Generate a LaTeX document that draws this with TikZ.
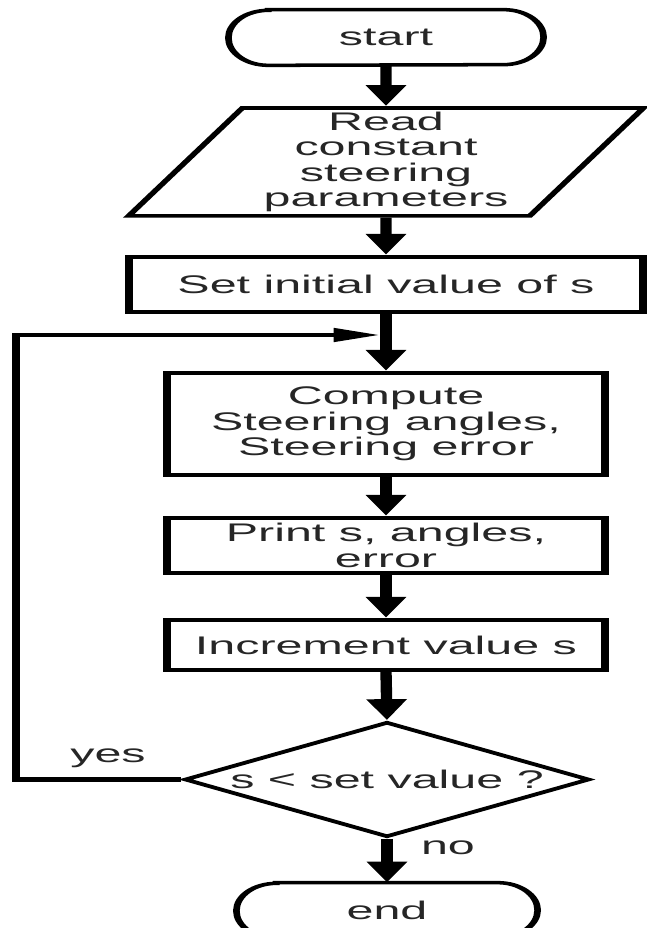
\documentclass[tikz,border=0pt]{standalone}
\usepackage{fontspec}
\setmainfont{Liberation Sans}
\usetikzlibrary{shapes.geometric,arrows.meta}

% capsule outline round a terminal node
\newcommand{\capsule}[1]{%
  \draw[line width=2pt] ([xshift=0.42cm]#1.north west) -- ([xshift=-0.42cm]#1.north east)
    arc[start angle=90, end angle=-90, x radius=0.42cm, y radius=0.55cm]
    -- ([xshift=0.42cm]#1.south west)
    arc[start angle=270, end angle=90, x radius=0.42cm, y radius=0.55cm] -- cycle;}

\begin{document}
\begin{tikzpicture}[x=0.02cm, y=-0.02cm,
    every node/.style={font=\fontsize{14.5}{14.5}\selectfont, text=black!85, align=center, inner sep=1pt},
    terminal/.style={minimum height=1.1cm},
    rectbox/.style={draw, line width=2.4pt, minimum width=4.62cm},
    iobox/.style={trapezium, draw, line width=2pt, trapezium left angle=60, trapezium right angle=120,
      trapezium stretches body, minimum width=5.42cm, minimum height=2.16cm},
    decision/.style={diamond, draw, line width=2pt, aspect=1.86, inner sep=0pt,
      minimum width=4.27cm, minimum height=2.3cm},
    flow/.style={line width=3.4pt, -{Triangle[width=11.3pt,length=12pt]}},
    back/.style={line width=2.5pt, -{Triangle[width=7.4pt,length=14pt]}}]
  \useasboundingbox (0,0) rectangle (646,928);
  \begin{scope}[transform canvas={xscale=1.9}, x=0.0105263cm]
    \node (start) at (386, 37.5) [terminal, minimum width=3.305cm] {start};
    \capsule{start}
    \node (read) at (386, 162) [iobox] {Read\\constant\\steering\\parameters};
    \node (setbox) at (386, 284.5) [rectbox, minimum width=5.42cm, minimum height=1.1cm] {Set initial value of s};
    \node (compute) at (386, 424) [rectbox, minimum height=2.04cm] {Compute\\Steering angles,\\Steering error};
    \node (print) at (386, 545.5) [rectbox, minimum height=1.1cm] {Print s, angles,\\error};
    \node (incr) at (386, 645) [rectbox, minimum height=1.0cm] {Increment value s};
    \node (check) at (387, 779.5) [decision] {s < set value ?};
    \node (stop) at (387, 910.5) [terminal, minimum width=3.158cm] {end};
    \capsule{stop}

    \node (yes) at (108, 758) {yes};
    \node (no) at (448, 848) {no};
    \coordinate (merge) at (386, 335);

    \draw[flow] (start.south) -- (read.north);
    \draw[flow] (read.south) -- (setbox.north);
    \draw[flow] (setbox.south) -- (compute.north);
    \draw[flow] (compute.south) -- (print.north);
    \draw[flow] (print.south) -- (incr.north);
    \draw[flow] (incr.south) -- (check.north);
    \draw[flow] (check.south) -- (stop.north);
    \draw[back] (check.west) -- ++(-165,0) |- ([xshift=-1.7pt]merge);
  \end{scope}
\end{tikzpicture}
\end{document}
